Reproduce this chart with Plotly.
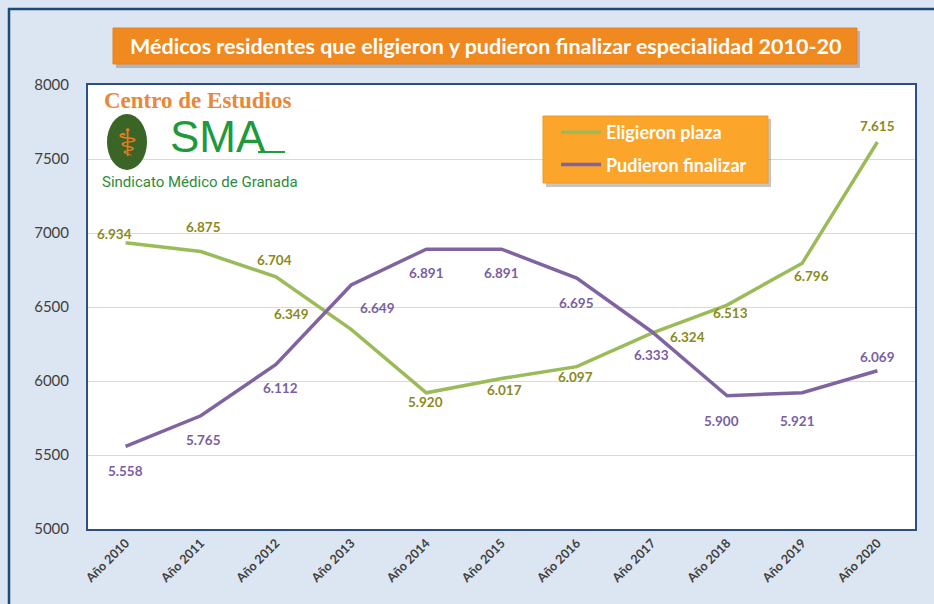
import plotly.graph_objects as go

years = ["Año 2010", "Año 2011", "Año 2012", "Año 2013", "Año 2014", "Año 2015",
         "Año 2016", "Año 2017", "Año 2018", "Año 2019", "Año 2020"]
eligieron = [6934, 6875, 6704, 6349, 5920, 6017, 6097, 6324, 6513, 6796, 7615]
pudieron = [5558, 5765, 6112, 6649, 6891, 6891, 6695, 6333, 5900, 5921, 6069]

# label offsets (pixels) – styling only
elig_dx = [-11, 3, -1, -60, -1, 3, -1, 36, 3, 9, 0]
elig_dy = [9, 25, 17, 15, -9, -12, -10, -4, -8, -13, 16]
pud_dx = [0, 3, 5, 26, 0, 0, 0, 0, -6, -5, 0]
pud_dy = [-25, -24, -24, -23, -24, -24, -25, -23, -25, -28, 14]

GREEN = "#9BBB59"
PURPLE = "#8064A2"
GREEN_TXT = "#8A8A1E"
PURPLE_TXT = "#7A5FA2"
FONT = "Lato, Open Sans, sans-serif"

def fmt(v):
    return f"{v:,}".replace(",", ".")

fig = go.Figure()
fig.add_trace(go.Scatter(x=years, y=eligieron, mode="lines", name="Eligieron plaza",
                         line=dict(color=GREEN, width=3.5), legendgroup="a"))
fig.add_trace(go.Scatter(x=years, y=pudieron, mode="lines", name="Pudieron finalizar",
                         line=dict(color=PURPLE, width=3.5), legendgroup="b"))

ann = []
for i, (x, v) in enumerate(zip(years, eligieron)):
    ann.append(dict(x=x, y=v, text=fmt(v), showarrow=False, xshift=elig_dx[i], yshift=elig_dy[i],
                    xanchor="center", yanchor="middle",
                    font=dict(family=FONT, size=13.5, color=GREEN_TXT, weight="bold")))
for i, (x, v) in enumerate(zip(years, pudieron)):
    ann.append(dict(x=x, y=v, text=fmt(v), showarrow=False, xshift=pud_dx[i], yshift=pud_dy[i],
                    xanchor="center", yanchor="middle",
                    font=dict(family=FONT, size=13.5, color=PURPLE_TXT, weight="bold")))

# pixel -> paper helpers (plot area: x 88..915, y 85..529)
L, R, T, B = 88, 915, 85, 529
def px(x):
    return (x - L) / (R - L)
def py(y):
    return (B - y) / (B - T)

shapes = [
    # outer frame
    dict(type="rect", xref="paper", yref="paper", x0=px(9), x1=px(960), y0=py(9), y1=py(640),
         line=dict(color="#1F497D", width=2.5), fillcolor="rgba(0,0,0,0)", layer="below"),
    # title shadow + box
    dict(type="rect", xref="paper", yref="paper", x0=px(116), x1=px(860), y0=py(31), y1=py(68),
         line=dict(width=0), fillcolor="rgba(90,90,90,0.35)"),
    dict(type="rect", xref="paper", yref="paper", x0=px(113), x1=px(857), y0=py(28), y1=py(64),
         line=dict(color="#E8821C", width=1), fillcolor="#F0891F"),
    # legend shadow + box
    dict(type="rect", xref="paper", yref="paper", x0=px(546), x1=px(771), y0=py(119), y1=py(187),
         line=dict(width=0), fillcolor="rgba(90,90,90,0.35)"),
    dict(type="rect", xref="paper", yref="paper", x0=px(543), x1=px(768), y0=py(116), y1=py(183),
         line=dict(color="#F29A1F", width=1), fillcolor="#FBA52A"),
    # logo emblem
    dict(type="circle", xref="paper", yref="paper", x0=px(107), x1=px(147), y0=py(114), y1=py(170),
         line=dict(width=0), fillcolor="#3A6526"),
    dict(type="line", xref="paper", yref="paper", x0=px(258), x1=px(285), y0=py(152), y1=py(152),
         line=dict(color="#1FA040", width=2)),
]

ann += [
    dict(xref="paper", yref="paper", x=px(485), y=py(46), xanchor="center", yanchor="middle",
         text="Médicos residentes que eligieron y pudieron finalizar especialidad 2010-20",
         showarrow=False, font=dict(family=FONT, size=21.5, color="white", weight="bold")),
    dict(xref="paper", yref="paper", x=px(197), y=py(101), xanchor="center", yanchor="middle",
         text="Centro de Estudios", showarrow=False,
         font=dict(family="Liberation Serif, DejaVu Serif, serif", size=23, color="#E8883A", weight="bold")),
    dict(xref="paper", yref="paper", x=px(218), y=py(136), xanchor="center", yanchor="middle",
         text="SMA", showarrow=False,
         font=dict(family="Liberation Sans Narrow, Liberation Sans, sans-serif", size=44, color="#1E9A3C")),
    dict(xref="paper", yref="paper", x=px(127), y=py(143), xanchor="center", yanchor="middle",
         text="⚕", showarrow=False, font=dict(family="DejaVu Sans", size=38, color="#F07A20")),
    dict(xref="paper", yref="paper", x=px(200), y=py(182), xanchor="center", yanchor="middle",
         text="Sindicato Médico de Granada", showarrow=False,
         font=dict(family="Liberation Sans Narrow, Roboto, sans-serif", size=15, color="#2E8B3A")),
]

fig.update_layout(
    width=934, height=604,
    paper_bgcolor="#DCE6F2", plot_bgcolor="white",
    margin=dict(l=L, r=934 - R, t=T, b=604 - B, autoexpand=False),
    showlegend=True,
    legend=dict(x=px(556), y=py(114), xanchor="left", yanchor="top", bgcolor="rgba(0,0,0,0)",
                font=dict(family=FONT, size=18, color="white", weight="bold"),
                tracegroupgap=6, itemwidth=40),
    shapes=shapes, annotations=ann,
    xaxis=dict(type="category", range=[-0.5, 10.5], tickangle=-45, showgrid=False,
               showline=True, mirror=True, linecolor="#2B4F86", linewidth=2, ticks="",
               tickfont=dict(family=FONT, size=12.5, color="#404040", weight="bold")),
    yaxis=dict(range=[5000, 8000], dtick=500, tickformat="d", showgrid=True, gridcolor="#D9D9D9",
               gridwidth=1, showline=True, mirror=True, linecolor="#2B4F86", linewidth=2, ticks="",
               ticklabelstandoff=14, zeroline=False,
               tickfont=dict(family=FONT, size=15, color="#404040")),
)

fig.write_html("out.html", config={"displayModeBar": False},
               post_script="document.body.style.margin='0';document.body.style.padding='0';")
